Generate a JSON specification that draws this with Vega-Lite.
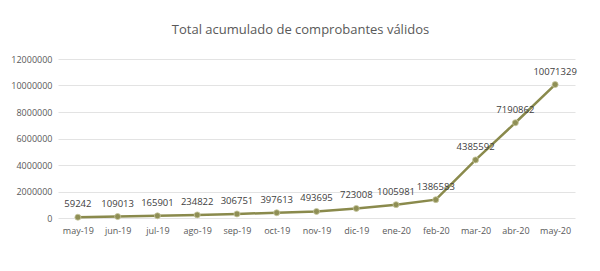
{
  "$schema": "https://vega.github.io/schema/vega-lite/v6.json",
  "autosize": "none",
  "width": 517,
  "height": 159,
  "padding": {"left": 58, "top": 59, "right": 25, "bottom": 53},
  "background": "white",
  "title": {
    "text": "Total acumulado de comprobantes válidos",
    "font": "Open Sans",
    "fontSize": 13,
    "fontWeight": "normal",
    "color": "#595959",
    "anchor": "middle",
    "offset": 18,
    "dx": -16
  },
  "data": {
    "values": [
      {"mes": "may-19", "total": 59242},
      {"mes": "jun-19", "total": 109013},
      {"mes": "jul-19", "total": 165901},
      {"mes": "ago-19", "total": 234822},
      {"mes": "sep-19", "total": 306751},
      {"mes": "oct-19", "total": 397613},
      {"mes": "nov-19", "total": 493695},
      {"mes": "dic-19", "total": 723008},
      {"mes": "ene-20", "total": 1005981},
      {"mes": "feb-20", "total": 1386583},
      {"mes": "mar-20", "total": 4385592},
      {"mes": "abr-20", "total": 7190862},
      {"mes": "may-20", "total": 10071329}
    ]
  },
  "encoding": {
    "x": {
      "field": "mes",
      "type": "ordinal",
      "sort": null,
      "scale": {"type": "point", "padding": 0.5},
      "axis": {
        "title": null,
        "labelAngle": 0,
        "ticks": false,
        "domain": false,
        "labelPadding": 8,
        "labelFont": "Open Sans",
        "labelFontSize": 9,
        "labelColor": "#595959"
      }
    },
    "y": {
      "field": "total",
      "type": "quantitative",
      "scale": {"domain": [0, 12000000]},
      "axis": {
        "title": null,
        "values": [0, 2000000, 4000000, 6000000, 8000000, 10000000, 12000000],
        "format": "d",
        "ticks": false,
        "domain": false,
        "labelPadding": 6,
        "labelFont": "Open Sans",
        "labelFontSize": 9,
        "labelColor": "#595959",
        "gridColor": "#e3e3e3",
        "gridWidth": 1
      }
    }
  },
  "layer": [
    {
      "mark": {"type": "line", "color": "#8a8a4c", "strokeWidth": 2.5}
    },
    {
      "mark": {"type": "point", "filled": true, "shape": "circle", "size": 36, "color": "#8f8f55", "stroke": "#c8c8a0", "strokeWidth": 0.8, "opacity": 1}
    },
    {
      "mark": {"type": "text", "dy": -13, "font": "Open Sans", "fontSize": 9.5, "color": "#404040"},
      "encoding": {"text": {"field": "total", "type": "quantitative", "format": "d"}}
    }
  ],
  "config": {"view": {"stroke": null}}
}
